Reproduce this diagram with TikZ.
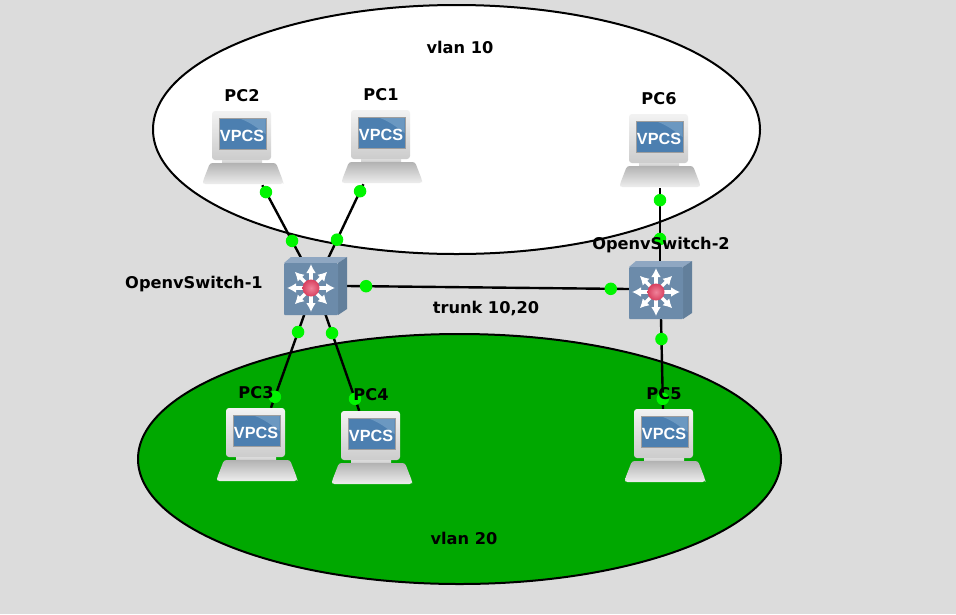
\documentclass[tikz,border=0pt]{standalone}
\usepackage{fontspec}
\setmainfont{DejaVu Sans}
\newfontfamily\iconfont{Liberation Sans}
\usetikzlibrary{arrows.meta,shadings}
\definecolor{bgc}{HTML}{DCDCDC}
\definecolor{vlang}{HTML}{00A800}
\definecolor{dotg}{HTML}{00F500}
\definecolor{swf}{HTML}{6C8BAA}
\definecolor{swt}{HTML}{8FA7C2}
\definecolor{sws}{HTML}{627F9B}
\definecolor{scr}{HTML}{4C7FB0}
\definecolor{scrl}{HTML}{86AECF}
\definecolor{ballin}{HTML}{F0829A}
\definecolor{ballout}{HTML}{D8405F}
\tikzset{
  vlanshape/.style={draw=black,line width=2pt},
  link/.style={draw=black,line width=2.4pt},
  portdot/.style={circle,fill=dotg,inner sep=0pt,minimum size=12.5pt},
  lbl/.style={font=\fontsize{16.2}{18}\selectfont\bfseries,text=black,inner sep=0pt},
  pcbox/.style={minimum width=80pt,minimum height=74pt,inner sep=0pt},
  swbox/.style={minimum width=54pt,minimum height=52pt,inner sep=0pt},
  swarrow/.style={white,line width=3.4pt,-{Latex[length=9pt,width=10pt]}},
}
\newcommand{\pcicon}[1]{%
  \begin{scope}[shift={(#1.center)}]
    \shade[top color=white!92!black,bottom color=white!72!black,rounded corners=2pt]
      (-21,10)--(19,10)--(19,18)--(-21,18)--cycle;
    \shade[top color=white!70!black,bottom color=white!93!black,rounded corners=2.5pt]
      (-33,15)--(33,15)--(40,33)--(40,36)--(-40,36)--(-40,33)--cycle;
    \shade[top color=white!95!black,bottom color=white!80!black,rounded corners=3pt]
      (-31,-37) rectangle (28,12);
    \fill[white!62!black] (-24.5,-30) rectangle (23.5,2);
    \fill[scr] (-23.5,-29) rectangle (22.5,1);
    \fill[scrl,opacity=.55] (-2,-29)--(22.5,-29)--(22.5,-14) .. controls (12,-22) and (6,-26) .. (-2,-29)--cycle;
    \node[text=white,font=\iconfont\fontsize{16.2}{18}\selectfont\bfseries,inner sep=0pt] at (-1,-12) {VPCS};
  \end{scope}}
\newcommand{\swicon}[1]{%
  \begin{scope}[shift={(#1.center)}]
    \fill[swt] (-27,-25)--(-20,-31)--(36,-31)--(27,-25)--cycle;
    \fill[sws] (27,-25)--(36,-31)--(36,21)--(27,27)--cycle;
    \fill[swf,rounded corners=1pt] (-27,-25) rectangle (27,27);
    \foreach \a in {0,45,...,315}{
      \pgfmathsetmacro{\r}{mod(\a,90)==0 ? 24 : 23}
      \draw[swarrow] (0,0)--(\a:\r);
    }
    \shade[inner color=ballin,outer color=ballout] (0,0) circle (8.5);
  \end{scope}}
\begin{document}
\begin{tikzpicture}[x=1pt,y=-1pt]
\useasboundingbox (0,0) rectangle (956,614);
\fill[bgc] (0,0) rectangle (956,614);
\draw[vlanshape,fill=white] (456.5,129.5) ellipse [x radius=303.5,y radius=124.5];
\draw[vlanshape,fill=vlang] (459.5,459) ellipse [x radius=321.5,y radius=125];

\node[pcbox] (pc2) at (243,148) {};
\node[pcbox] (pc1) at (382,147) {};
\node[pcbox] (pc6) at (660,151) {};
\node[pcbox] (pc3) at (257,445) {};
\node[pcbox] (pc4) at (372,448) {};
\node[pcbox] (pc5) at (665,446) {};
\node[swbox] (sw1) at (311,288) {};
\node[swbox] (sw2) at (656,292) {};

\path[link] ([xshift=19.3pt]pc2.south) -- ([xshift=-7.8pt]sw1.north)
  node[portdot,pos=.09] (d1) {} node[portdot,pos=.727] (d2) {};
\path[link] ([xshift=-18.6pt]pc1.south) -- ([xshift=15.5pt]sw1.north)
  node[portdot,pos=.09] (d3) {} node[portdot,pos=.715] (d4) {};
\path[link] (pc6.south) -- (pc6.south |- sw2.north)
  node[portdot,pos=.154] (d5) {} node[portdot,pos=.654] (d6) {};
\path[link] ([xshift=9pt,yshift=2pt]sw1.east) -- ([yshift=3pt]sw2.west)
  node[portdot,pos=.067] (d7) {} node[portdot,pos=.936] (d8) {};
\path[link] ([xshift=-6.6pt]sw1.south) -- ([xshift=14pt]pc3.north)
  node[portdot,pos=.19] (d9) {} node[portdot,pos=.883] (d10) {};
\path[link] ([xshift=14.4pt]sw1.south) -- ([xshift=-12.8pt]pc4.north)
  node[portdot,pos=.196] (d11) {} node[portdot,pos=.876] (d12) {};
\path[link] ([xshift=5pt]sw2.south) -- ([xshift=-2pt]pc5.north)
  node[portdot,pos=.23] (d13) {} node[portdot,pos=.89] (d14) {};

\pcicon{pc2}\pcicon{pc1}\pcicon{pc6}\pcicon{pc3}\pcicon{pc4}\pcicon{pc5}
\swicon{sw1}\swicon{sw2}

\node[lbl] (t1) at (460,47.5) {vlan 10};
\node[lbl] (t2) at (464,538.5) {vlan 20};
\node[lbl] (t3) at (486,308.5) {trunk 10,20};
\node[lbl] (t4) at (194,284) {OpenvSwitch-1};
\node[lbl] (t5) at (661,245.5) {OpenvSwitch-2};
\node[lbl] (t6) at (242,96) {PC2};
\node[lbl] (t7) at (381,94.5) {PC1};
\node[lbl] (t8) at (659,98.5) {PC6};
\node[lbl] (t9) at (256,392.5) {PC3};
\node[lbl] (t10) at (371,395) {PC4};
\node[lbl] (t11) at (664,393.5) {PC5};
\end{tikzpicture}
\end{document}
